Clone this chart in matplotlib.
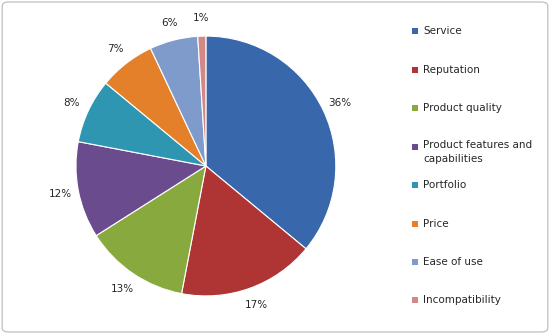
import matplotlib
matplotlib.use("Agg")
import matplotlib.pyplot as plt
from matplotlib.patches import FancyBboxPatch, Rectangle

categories = ["Service", "Reputation", "Product quality",
              "Product features and\ncapabilities", "Portfolio", "Price",
              "Ease of use", "Incompatibility"]
shares = [36, 17, 13, 12, 8, 7, 6, 1]
colors = ["#3867AC", "#AE3533", "#87A93E", "#6A4B8E", "#2F96B2",
          "#E5802A", "#7F9BCB", "#D38888"]

plt.rcParams["font.family"] = ["DejaVu Sans"]

W, H = 550, 334
fig = plt.figure(figsize=(W / 100, H / 100), dpi=100)
fig.patch.set_facecolor("white")

# rounded chart-area frame, kept behind the pie
frame = FancyBboxPatch((0.004, 0.006), 0.992, 0.988,
                       boxstyle="round,pad=0,rounding_size=0.012",
                       transform=fig.transFigure, facecolor="none",
                       edgecolor="#BFBFBF", linewidth=0.9, zorder=-1)
fig.patches.append(frame)

ax = fig.add_axes([0.138, 0.114, 0.4727, 0.778])
wedges, texts = ax.pie(shares, colors=colors, startangle=90, counterclock=False,
                       labels=[f"{v}%" for v in shares], labeldistance=1.14,
                       wedgeprops=dict(edgecolor="white", linewidth=0.8),
                       textprops=dict(fontsize=7.5, color="#262626"))
for t in texts:
    t.set_horizontalalignment("center")
ax.set_xlim(-1, 1)
ax.set_ylim(-1, 1)
ax.set_aspect("equal")

# legend on the right
legend_y = [31, 70, 108, 147, 185, 224, 262, 300]
for name, col, y in zip(categories, colors, legend_y):
    yf = 1 - y / H
    fig.patches.append(Rectangle((412 / W, yf - 3 / H), 6 / W, 6 / H,
                                 transform=fig.transFigure, facecolor=col,
                                 edgecolor="none"))
    if "\n" in name:
        fig.text(423 / W, yf + 7 / H, name, fontsize=7.5, color="#262626",
                 va="top", ha="left", linespacing=1.45)
    else:
        fig.text(423 / W, yf, name, fontsize=7.5, color="#262626",
                 va="center", ha="left")

fig.savefig("out.png", dpi=100, facecolor="white")
